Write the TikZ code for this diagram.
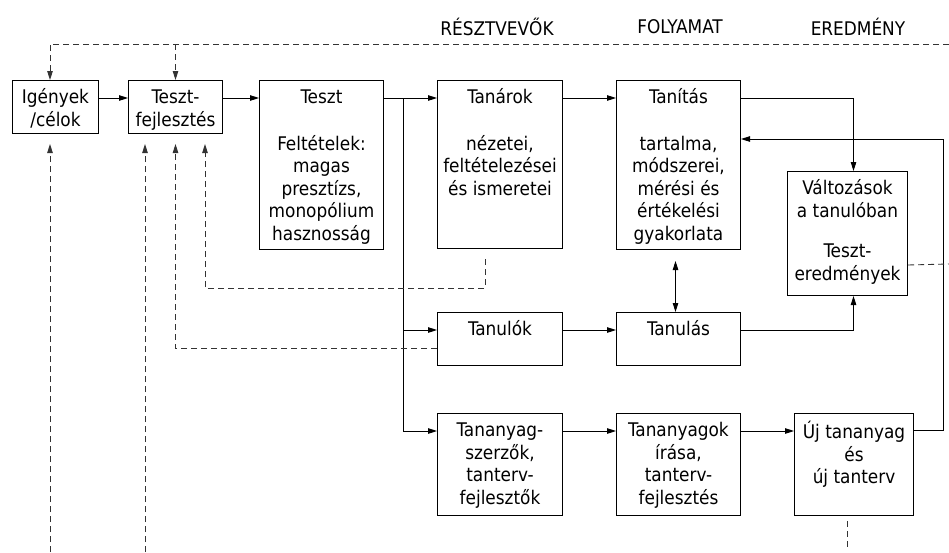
\documentclass[tikz,border=0pt]{standalone}
\usepackage{fontspec}
\setmainfont{DejaVu Sans Condensed}
\usetikzlibrary{arrows.meta}

\newcommand\doboz[6]{%
  \node[blok, minimum width=#4pt, minimum height=#5pt] (#1) at (#2,#3) {};
  \node[szoveg] (#1-t) at ([yshift=-8pt]#1.north) {\strut #6};}

\begin{document}
\begin{tikzpicture}[x=1pt,y=-1pt,
    font={\fontsize{18.8}{22.5}\selectfont},
    blok/.style={draw, line width=1pt, anchor=north west, inner sep=0pt},
    szoveg/.style={anchor=north, align=center, inner sep=0pt},
    nyil/.style={line width=0.9pt, -{Triangle[length=9pt,width=5.5pt]}},
    kettos/.style={line width=0.9pt, {Triangle[length=9pt,width=5.5pt]}-{Triangle[length=9pt,width=5.5pt]}},
    szagg/.style={line width=0.9pt, dash pattern=on 6pt off 4pt, black!80}]
\useasboundingbox (0,0) rectangle (949,552);
\node (h1) at (497,27) {RÉSZTVEVŐK};
\node (h2) at (680,27) {FOLYAMAT};
\node (h3) at (858,27) {EREDMÉNY};

\doboz{ig}{12}{80}{86}{53}{Igények\\/célok}
\doboz{tf}{128}{80}{94}{53}{Teszt-\\fejlesztés}
\doboz{teszt}{259}{80}{124}{169}{Teszt\\[24pt]Feltételek:\\magas\\presztízs,\\monopólium\\hasznosság}
\doboz{tanar}{437}{80}{125}{168}{Tanárok\\[24pt]nézetei,\\feltételezései\\és ismeretei}
\doboz{tanit}{616}{80}{124}{169}{Tanítás\\[24pt]tartalma,\\módszerei,\\mérési és\\értékelési\\gyakorlata}
\doboz{valt}{787}{171}{120}{124}{Változások\\a tanulóban\\[18pt]Teszt-\\eredmények}
\doboz{tanulok}{437}{312}{125}{53}{Tanulók}
\doboz{tanulas}{616}{312}{124}{53}{Tanulás}
\doboz{szerzo}{437}{413}{125}{102}{Tananyag-\\szerzők,\\tanterv-\\fejlesztők}
\doboz{irasa}{616}{413}{124}{102}{Tananyagok\\írása,\\tanterv-\\fejlesztés}
\doboz{uj}{794}{413}{119}{102}{Új tananyag\\és\\új tanterv}

\coordinate (ag) at (403,98);
\coordinate (vissza) at (943,139);
\coordinate (jobbfent) at (949,44);
\coordinate (jobbkozep) at (949,264);
\coordinate (a1) at (50,552);
\coordinate (a2) at (145,552);
\coordinate (a3) at (847,550);
\coordinate (b1) at (485,288);
\coordinate (b2) at (205,288);

\draw[nyil] ([yshift=-18pt]ig.north east) -- ([yshift=-18pt]tf.north west);
\draw[nyil] ([yshift=-18pt]tf.north east) -- ([yshift=-18pt]teszt.north west);
\draw[nyil] ([yshift=-18pt]teszt.north east) -- ([yshift=-18pt]tanar.north west);
\draw[nyil] (ag) |- ([yshift=-18pt]tanulok.north west);
\draw[nyil] (ag) |- ([yshift=-18pt]szerzo.north west);
\draw[nyil] ([yshift=-18pt]tanar.north east) -- ([yshift=-18pt]tanit.north west);
\draw[nyil] ([yshift=-18pt]tanit.north east) -| ([xshift=6pt]valt.north);
\draw[nyil] ([yshift=-18pt]tanulok.north east) -- ([yshift=-18pt]tanulas.north west);
\draw[nyil] ([yshift=-18pt]tanulas.north east) -| ([xshift=6pt]valt.south);
\draw[nyil] ([yshift=-18pt]szerzo.north east) -- ([yshift=-18pt]irasa.north west);
\draw[nyil] ([yshift=-18pt]irasa.north east) -- ([yshift=-18pt]uj.north west);
\draw[nyil] ([yshift=-17pt]uj.north east) -| (vissza) -- (vissza -| tanit.east);
\draw[kettos] ([xshift=-3pt,yshift=-11pt]tanit.south) -- ([xshift=-3pt]tanulas.north);

\draw[szagg,nyil] (jobbfent) -| (a1 |- ig.north);
\draw[szagg,nyil] (tf.north |- jobbfent) -- (tf.north);
\draw[szagg,nyil,shorten >=10pt] (a1) -- (a1 |- ig.south);
\draw[szagg,nyil,shorten >=10pt] (a2) -- (a2 |- tf.south);
\draw[szagg,nyil,shorten >=10pt] ([yshift=18pt]tanulok.south west) -| (tf.south);
\draw[szagg,nyil,shorten <=10pt,shorten >=10pt] (b1 |- tanar.south) |- (b2) -- (b2 |- tf.south);
\draw[szagg] ([yshift=31pt]valt.south east) -- (jobbkozep);
\draw[szagg,shorten <=5pt] (a3 |- uj.south) -- (a3);
\end{tikzpicture}
\end{document}
